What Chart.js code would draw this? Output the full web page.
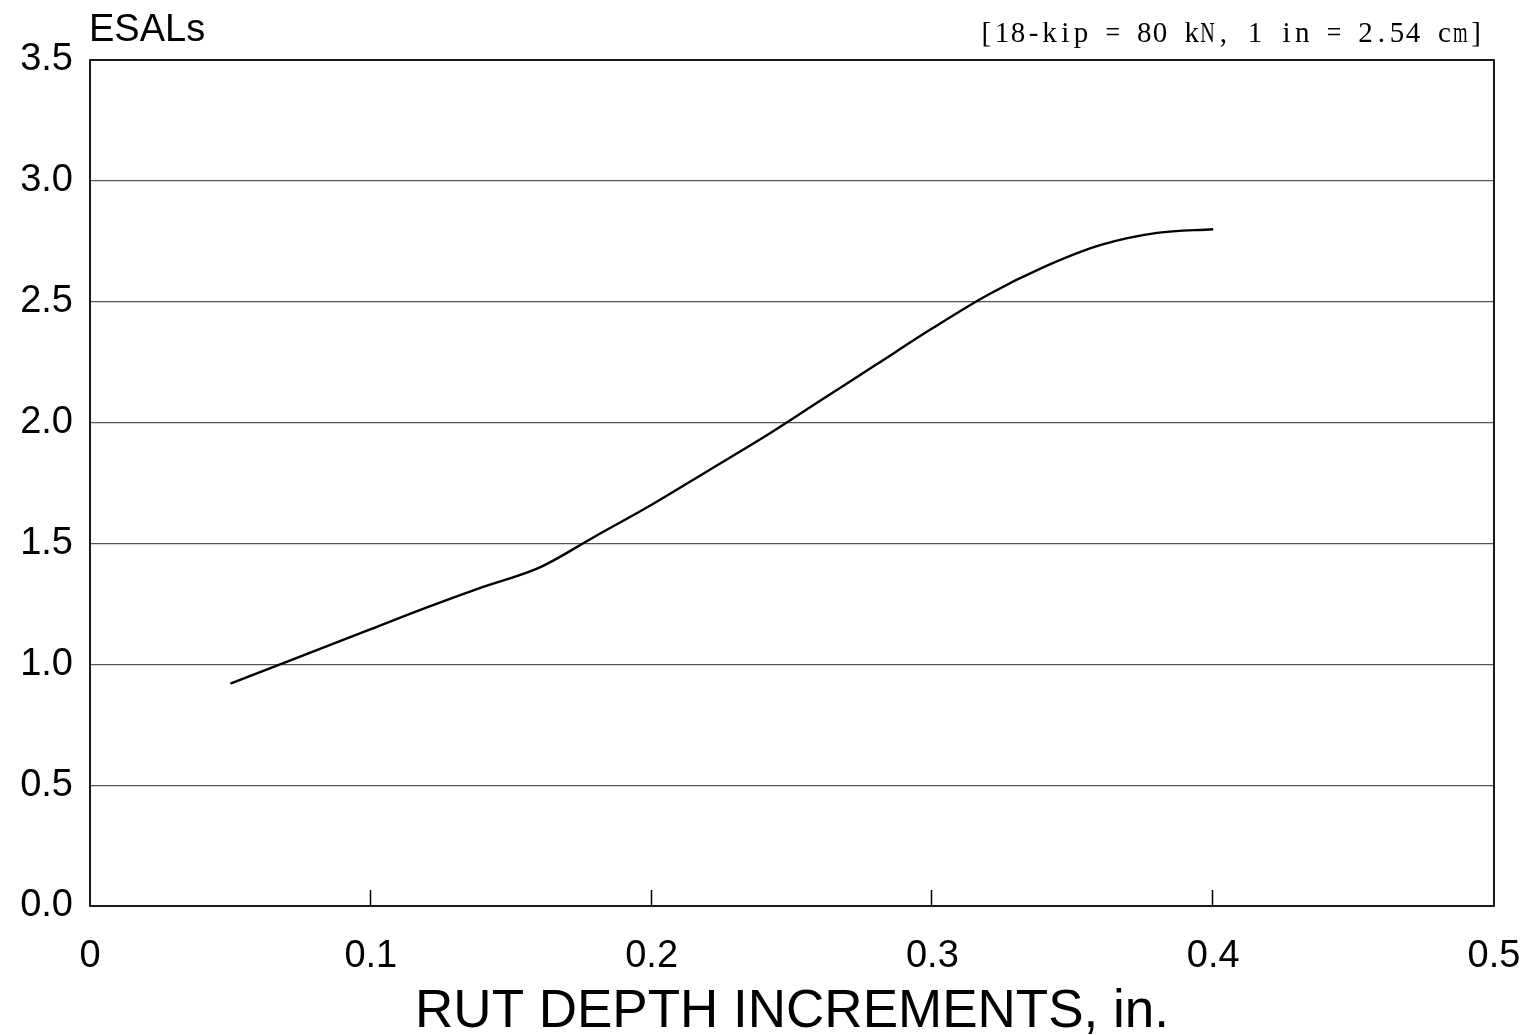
<!DOCTYPE html>
<html>
<head>
<meta charset="utf-8">
<script src="https://cdn.jsdelivr.net/npm/chart.js@4/dist/chart.umd.min.js"></script>
<style>
  html, body { margin: 0; padding: 0; background: #fff; }
  #wrap { width: 1537px; height: 1035px; position: relative; }
</style>
</head>
<body>
<div id="wrap"><canvas id="c" width="1537" height="1035"></canvas></div>
<script>
// Rut depth increment (in.) vs. ESALs (millions)
const rutDepth = [0.05, 0.07, 0.10, 0.12, 0.14, 0.16, 0.18, 0.20, 0.22, 0.24, 0.26, 0.28, 0.30, 0.32, 0.34, 0.36, 0.38, 0.40];
const esals    = [0.92, 1.01, 1.145, 1.235, 1.32, 1.40, 1.53, 1.66, 1.80, 1.94, 2.09, 2.24, 2.39, 2.53, 2.645, 2.735, 2.785, 2.80];

const xTickValues = [0, 0.1, 0.2, 0.3, 0.4, 0.5];
const yTickValues = [0, 0.5, 1.0, 1.5, 2.0, 2.5, 3.0, 3.5];

const yTitle = 'ESALs';
const xTitle = 'RUT DEPTH INCREMENTS, in.';
const unitNote = '[18-kip = 80 kN, 1 in = 2.54 cm]';

const SANS = '"Liberation Sans", Arial, Helvetica, sans-serif';
const SERIF = '"Liberation Serif", "Times New Roman", serif';

const points = rutDepth.map((x, i) => ({ x: x, y: esals[i] }));

// typewriter-style text: every character on a fixed pitch,
// wide glyphs are squeezed to fit their cell
function drawPitched(ctx, text, rightX, baseline, pitch) {
  const startX = rightX - pitch * text.length;
  ctx.textAlign = 'center';
  for (let i = 0; i < text.length; i++) {
    const ch = text[i];
    const cx = startX + pitch * (i + 0.5);
    const w = ctx.measureText(ch).width;
    const maxW = pitch * 0.92;
    if (w > maxW) {
      ctx.save();
      ctx.translate(cx, baseline);
      ctx.scale(maxW / w, 1);
      ctx.fillText(ch, 0, 0);
      ctx.restore();
    } else {
      ctx.fillText(ch, cx, baseline);
    }
  }
}

// frame, inner tick marks on the x axis, and the header texts
const framePlugin = {
  id: 'frame',
  afterDraw(chart) {
    const ctx = chart.ctx;
    const a = chart.chartArea;
    const xs = chart.scales.x;
    ctx.save();
    ctx.strokeStyle = '#000';
    ctx.lineWidth = 1.8;
    ctx.strokeRect(a.left, a.top, a.right - a.left, a.bottom - a.top);
    ctx.lineWidth = 1.5;
    xTickValues.slice(1, -1).forEach(v => {
      const px = Math.round(xs.getPixelForValue(v)) - 0.5;
      ctx.beginPath();
      ctx.moveTo(px, a.bottom);
      ctx.lineTo(px, a.bottom - 16);
      ctx.stroke();
    });
    ctx.fillStyle = '#000';
    ctx.textBaseline = 'alphabetic';
    ctx.textAlign = 'left';
    ctx.font = '38px ' + SANS;
    ctx.fillText(yTitle, a.left - 1, 41);
    ctx.font = '29px ' + SERIF;
    drawPitched(ctx, unitNote, 1484, 42, 15.8);
    ctx.restore();
  }
};

new Chart(document.getElementById('c'), {
  type: 'line',
  data: {
    datasets: [{
      data: points,
      borderColor: '#000',
      borderWidth: 2.4,
      pointRadius: 0,
      fill: false,
      cubicInterpolationMode: 'monotone'
    }]
  },
  options: {
    responsive: false,
    animation: false,
    devicePixelRatio: 1,
    layout: { padding: { left: 0, right: 43, top: 60, bottom: 0 } },
    plugins: { legend: { display: false }, tooltip: { enabled: false } },
    scales: {
      x: {
        type: 'linear',
        min: 0,
        max: 0.5,
        afterBuildTicks(scale) { scale.ticks = xTickValues.map(v => ({ value: v })); },
        afterFit(scale) {
          scale.height = 129;
          scale.paddingLeft = 0;
          scale.paddingRight = 0;
        },
        grid: { display: false, drawTicks: false },
        border: { display: false },
        ticks: {
          color: '#000',
          font: { family: SANS, size: 38 },
          padding: 28,
          maxRotation: 0,
          callback: v => (v === 0 ? '0' : v.toFixed(1))
        },
        title: {
          display: true,
          text: xTitle,
          color: '#000',
          font: { family: SANS, size: 53 },
          padding: { top: 0, bottom: -9 }
        }
      },
      y: {
        type: 'linear',
        min: 0,
        max: 3.5,
        afterBuildTicks(scale) { scale.ticks = yTickValues.map(v => ({ value: v })); },
        afterFit(scale) {
          scale.width = 90;
          scale.paddingTop = 0;
          scale.paddingBottom = 0;
        },
        grid: {
          drawTicks: false,
          color: ctx => (ctx.tick && (ctx.tick.value === 0 || ctx.tick.value === 3.5)) ? 'rgba(0,0,0,0)' : '#555',
          lineWidth: 1.2,
          borderDash: [1, 2]
        },
        border: { display: false },
        ticks: {
          color: '#000',
          font: { family: SANS, size: 38 },
          padding: 17,
          callback: v => v.toFixed(1)
        }
      }
    }
  },
  plugins: [framePlugin]
});
</script>
</body>
</html>
